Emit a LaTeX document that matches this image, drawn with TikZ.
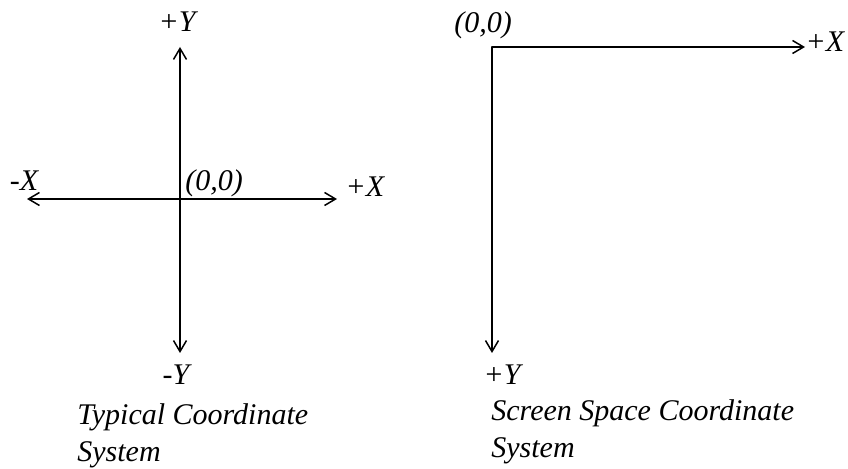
\documentclass[tikz,border=0pt]{standalone}
\usepackage{fontspec}
\setmainfont{Liberation Serif}
\usetikzlibrary{arrows.meta}
\begin{document}
\begin{tikzpicture}[x=0.5pt,y=-0.5pt,line cap=round,>={Straight Barb[length=5.5pt,width=6.5pt]},
  axis/.style={line width=0.75pt,->},
  lbl/.style={font=\fontsize{15}{18.5}\selectfont\itshape,inner sep=0pt}]
  \useasboundingbox (0,0) rectangle (848,469);
  % typical coordinate system
  \coordinate (o1) at (180,199);
  \coordinate (up1) at (180,47);
  \coordinate (dn1) at (180,353);
  \coordinate (lt1) at (27,199);
  \coordinate (rt1) at (337,199);
  \draw[axis] (o1) -- (up1);
  \draw[axis] (o1) -- (dn1);
  \draw[axis] (o1) -- (lt1);
  \draw[axis] (o1) -- (rt1);
  \node[lbl] (py1) at (177,22) {+Y};
  \node[lbl] (my1) at (176,375) {-Y};
  \node[lbl] (mx1) at (24,181) {-X};
  \node[lbl] (px1) at (365,187) {+X};
  \node[lbl] (org1) at (214,183) {(0,0)};
  \node[lbl,anchor=west,align=left] (cap1) at (77,436) {Typical Coordinate\\System};
  % screen space coordinate system
  \coordinate (o2) at (492,47);
  \coordinate (rt2) at (805,47);
  \coordinate (dn2) at (492,353);
  \draw[axis] (o2) -- (rt2);
  \draw[axis] (o2) -- (dn2);
  \node[lbl] (org2) at (483,25) {(0,0)};
  \node[lbl] (px2) at (825,42) {+X};
  \node[lbl] (py2) at (502,375) {+Y};
  \node[lbl,anchor=west,align=left] (cap2) at (491,432) {Screen Space Coordinate\\System};
\end{tikzpicture}
\end{document}
